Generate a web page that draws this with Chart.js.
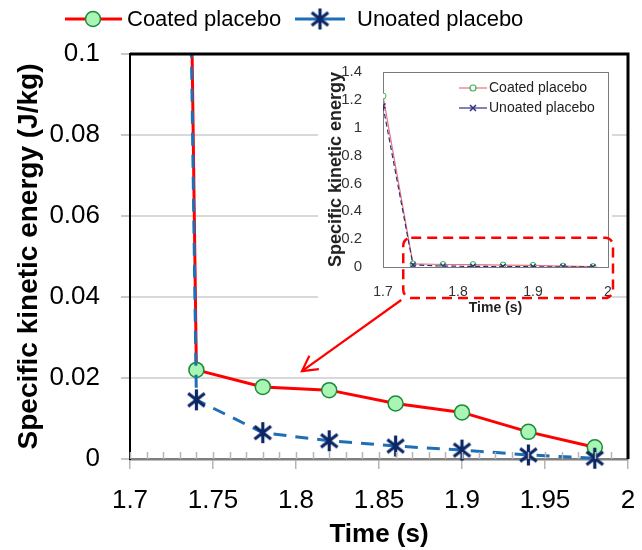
<!DOCTYPE html>
<html>
<head>
<meta charset="utf-8">
<script src="https://cdn.jsdelivr.net/npm/chart.js@4.4.1/dist/chart.umd.min.js"></script>
<style>
  html, body { margin: 0; padding: 0; background: #fff; }
  #wrap { position: relative; width: 642px; height: 550px; }
  #wrap canvas { position: absolute; left: 0; top: 0; }
</style>
</head>
<body>
<div id="wrap">
  <canvas id="mainChart" width="642" height="550"></canvas>
  <canvas id="insetChart" width="642" height="550"></canvas>
</div>
<script>
// data
var times = [1.70, 1.74, 1.78, 1.82, 1.86, 1.90, 1.94, 1.98];
var coated = [1.228, 0.022, 0.0178, 0.017, 0.0137, 0.0115, 0.0067, 0.0029];
var uncoated = [1.156, 0.0146, 0.0065, 0.0045, 0.0032, 0.0022, 0.0010, 0.0002];
var seriesNames = ["Coated placebo", "Unoated placebo"];
var yTitle = "Specific kinetic energy (J/kg)";
var yTitleInset = "Specific kinetic energy";
var xTitle = "Time (s)";

var FONT = "'Liberation Sans', Arial, sans-serif";

function toPoints(ys) {
  return times.map(function (t, i) { return { x: t, y: ys[i] }; });
}
function fmt(v) {
  return String(Number(v.toFixed(3)));
}

// asterisk marker (vertical bar + X)
function makeStar(size, color, lw) {
  var c = document.createElement("canvas");
  c.width = size; c.height = size;
  var g = c.getContext("2d");
  var m = size / 2, r = size / 2 - 1;
  var a = 38 * Math.PI / 180;
  g.strokeStyle = color; g.lineWidth = lw;
  g.beginPath();
  g.moveTo(m, m - r); g.lineTo(m, m + r);
  g.moveTo(m - r * Math.cos(a), m - r * Math.sin(a)); g.lineTo(m + r * Math.cos(a), m + r * Math.sin(a));
  g.moveTo(m - r * Math.cos(a), m + r * Math.sin(a)); g.lineTo(m + r * Math.cos(a), m - r * Math.sin(a));
  g.stroke();
  return c;
}
var star = makeStar(23, "#0c2766", 3.2);

var mainFrame = {
  id: "mainFrame",
  afterDraw: function (chart) {
    var ctx = chart.ctx, a = chart.chartArea, xs = chart.scales.x;
    ctx.save();
    // small inside ticks every 0.01
    ctx.strokeStyle = "#b5b5b5"; ctx.lineWidth = 1.5;
    for (var v = 170; v <= 200; v++) {
      var px = Math.round(xs.getPixelForValue(v / 100)) + 0.5;
      ctx.beginPath(); ctx.moveTo(px, a.bottom - 7); ctx.lineTo(px, a.bottom); ctx.stroke();
    }
    // heavy top / right frame
    ctx.strokeStyle = "#000"; ctx.lineWidth = 3;
    ctx.beginPath();
    ctx.moveTo(a.left, a.top); ctx.lineTo(a.right, a.top); ctx.lineTo(a.right, a.bottom);
    ctx.stroke();
    // legend
    var ly = 19;
    ctx.lineWidth = 3; ctx.strokeStyle = "#ff0000";
    ctx.beginPath(); ctx.moveTo(65, ly); ctx.lineTo(122, ly); ctx.stroke();
    ctx.beginPath(); ctx.arc(93, ly, 7.5, 0, Math.PI * 2);
    ctx.fillStyle = "#a9f5b4"; ctx.fill();
    ctx.lineWidth = 1.5; ctx.strokeStyle = "#1a8a3a"; ctx.stroke();
    ctx.lineWidth = 3; ctx.strokeStyle = "#1f6fb5";
    ctx.beginPath(); ctx.moveTo(295, ly); ctx.lineTo(345, ly); ctx.stroke();
    ctx.drawImage(star, 320 - 11.5, ly - 11.5);
    ctx.fillStyle = "#000"; ctx.font = "22px " + FONT;
    ctx.textBaseline = "middle"; ctx.textAlign = "left";
    ctx.fillText(seriesNames[0], 127, ly + 1);
    ctx.fillText(seriesNames[1], 357, ly + 1);
    ctx.restore();
  }
};

var mainChart = new Chart(document.getElementById("mainChart").getContext("2d"), {
  type: "line",
  data: {
    datasets: [
      {
        label: seriesNames[0],
        data: toPoints(coated),
        borderColor: "#ff0000",
        borderWidth: 3,
        pointStyle: "circle",
        pointRadius: 7.5,
        pointBackgroundColor: "#a9f5b4",
        pointBorderColor: "#1a8a3a",
        pointBorderWidth: 1.5,
        order: 1,
        clip: { left: 0, top: 0, right: 14, bottom: 14 },
      },
      {
        label: seriesNames[1],
        data: toPoints(uncoated),
        borderColor: "#1f6fb5",
        borderWidth: 3,
        borderDash: [13, 9],
        pointStyle: star,
        pointRadius: 11,
        order: 0,
        clip: { left: 0, top: 0, right: 14, bottom: 14 },
      },
    ],
  },
  options: {
    responsive: false,
    animation: false,
    layout: { padding: { top: 54, right: 14, left: 0, bottom: 0 } },
    plugins: { legend: { display: false }, tooltip: { enabled: false } },
    scales: {
      x: {
        type: "linear",
        min: 1.7,
        max: 2,
        afterFit: function (s) { s.height = 91; s.paddingLeft = 0; s.paddingRight = 8; },
        ticks: {
          stepSize: 0.05,
          padding: 16,
          color: "#000",
          font: { family: FONT, size: 26 },
          callback: function (v) { return fmt(v); },
        },
        grid: { drawOnChartArea: false, tickLength: 10, tickColor: "#b5b5b5", lineWidth: 1.5 },
        border: { color: "#7f7f7f", width: 2.5 },
        title: {
          display: true, text: xTitle, color: "#000",
          font: { family: FONT, size: 26, weight: "bold" },
          padding: { top: 5, bottom: 0 },
        },
      },
      y: {
        min: 0,
        max: 0.1,
        afterFit: function (s) { s.width = 130; },
        ticks: {
          stepSize: 0.02,
          padding: 21,
          color: "#000",
          font: { family: FONT, size: 26 },
          callback: function (v) { return fmt(v); },
        },
        grid: { color: "#d9d9d9", lineWidth: 2, tickLength: 9, tickColor: "#c8c8c8" },
        border: { color: "#000", width: 2 },
        title: {
          display: true, text: yTitle, color: "#000",
          font: { family: FONT, size: 28, weight: "bold" },
          padding: { top: 12, bottom: 0 },
        },
      },
    },
  },
  plugins: [mainFrame],
});

// inset: full-size overlay, white box behind it
var insetFrame = {
  id: "insetFrame",
  beforeDraw: function (chart) {
    var ctx = chart.ctx;
    ctx.save();
    ctx.fillStyle = "#fff";
    ctx.fillRect(318, 57, 294, 263);
    ctx.restore();
  },
  beforeDatasetsDraw: function (chart) {
    var ctx = chart.ctx, a = chart.chartArea;
    ctx.save();
    ctx.strokeStyle = "#7a7a7a"; ctx.lineWidth = 1;
    ctx.strokeRect(Math.round(a.left) + 0.5, Math.round(a.top) + 0.5, Math.round(a.right - a.left), Math.round(a.bottom - a.top));
    ctx.restore();
  },
  afterDraw: function (chart) {
    var ctx = chart.ctx, a = chart.chartArea, xs = chart.scales.x, ys = chart.scales.y;
    ctx.save();
    // legend
    ctx.font = "14px " + FONT; ctx.textBaseline = "middle"; ctx.fillStyle = "#222";
    ctx.lineWidth = 1.2;
    ctx.strokeStyle = "#e8737b";
    ctx.beginPath(); ctx.moveTo(459, 88); ctx.lineTo(487, 88); ctx.stroke();
    ctx.beginPath(); ctx.arc(473, 88, 3, 0, Math.PI * 2);
    ctx.fillStyle = "#fff"; ctx.fill(); ctx.strokeStyle = "#3cb44b"; ctx.stroke();
    ctx.strokeStyle = "#303080";
    ctx.beginPath(); ctx.moveTo(459, 108); ctx.lineTo(487, 108); ctx.stroke();
    ctx.lineWidth = 1.5;
    ctx.beginPath();
    ctx.moveTo(470, 105); ctx.lineTo(476, 111); ctx.moveTo(476, 105); ctx.lineTo(470, 111);
    ctx.stroke();
    ctx.fillStyle = "#222";
    ctx.fillText(seriesNames[0], 489, 88);
    ctx.fillText(seriesNames[1], 489, 108);
    // red dashed zoom box
    var rl = xs.getPixelForValue(1.727), rr = a.right + 5;
    var rt = ys.getPixelForValue(0.21), rb = a.bottom + 31;
    ctx.strokeStyle = "#ff0000"; ctx.lineWidth = 2.5; ctx.setLineDash([10, 6]);
    ctx.beginPath(); ctx.roundRect(rl, rt, rr - rl, rb - rt, 8); ctx.stroke();
    ctx.setLineDash([]);
    // arrow to main chart
    var tx = mainChart.scales.x.getPixelForValue(1.8036);
    var ty = mainChart.scales.y.getPixelForValue(0.0217);
    var sx = rl - 2, sy = rb + 2;
    ctx.lineWidth = 2.2;
    ctx.beginPath(); ctx.moveTo(sx, sy); ctx.lineTo(tx, ty); ctx.stroke();
    var ang = Math.atan2(ty - sy, tx - sx), L = 17, sp = 0.5;
    ctx.beginPath();
    ctx.moveTo(tx - L * Math.cos(ang - sp), ty - L * Math.sin(ang - sp));
    ctx.lineTo(tx, ty);
    ctx.lineTo(tx - L * Math.cos(ang + sp), ty - L * Math.sin(ang + sp));
    ctx.stroke();
    ctx.restore();
  }
};

var insetChart = new Chart(document.getElementById("insetChart").getContext("2d"), {
  type: "line",
  data: {
    datasets: [
      {
        label: seriesNames[0],
        data: toPoints(coated),
        borderColor: "#e8737b",
        borderWidth: 1.2,
        pointRadius: 3,
        pointBackgroundColor: "#fff",
        pointBorderColor: "#3cb44b",
        pointBorderWidth: 1,
        order: 1,
      },
      {
        label: seriesNames[1],
        data: toPoints(uncoated),
        borderColor: "#303080",
        borderWidth: 1.2,
        borderDash: [5, 3],
        pointStyle: "crossRot",
        pointRadius: 3.5,
        pointBorderColor: "#303080",
        pointBorderWidth: 1.5,
        order: 0,
      },
    ],
  },
  options: {
    responsive: false,
    animation: false,
    layout: { padding: { left: 318, top: 72, right: 34, bottom: 233 } },
    plugins: { legend: { display: false }, tooltip: { enabled: false } },
    scales: {
      x: {
        type: "linear",
        min: 1.7,
        max: 2,
        afterFit: function (s) { s.height = 50; },
        ticks: {
          stepSize: 0.1, padding: 9, color: "#333",
          font: { family: FONT, size: 14 },
          callback: function (v) { return fmt(v); },
        },
        grid: { display: false },
        border: { display: false },
        title: {
          display: true, text: xTitle, color: "#222",
          font: { family: FONT, size: 14, weight: "bold" },
          padding: { top: 4, bottom: 0 },
        },
      },
      y: {
        min: 0,
        max: 1.4,
        afterFit: function (s) { s.width = 65; },
        ticks: {
          stepSize: 0.2, padding: 13, color: "#333",
          font: { family: FONT, size: 15 },
          callback: function (v) { return fmt(v); },
        },
        grid: { display: false },
        border: { display: false },
        title: {
          display: true, text: yTitleInset, color: "#222",
          font: { family: FONT, size: 18, weight: "bold" },
          padding: { top: 7, bottom: 0 },
        },
      },
    },
  },
  plugins: [insetFrame],
});
</script>
</body>
</html>
